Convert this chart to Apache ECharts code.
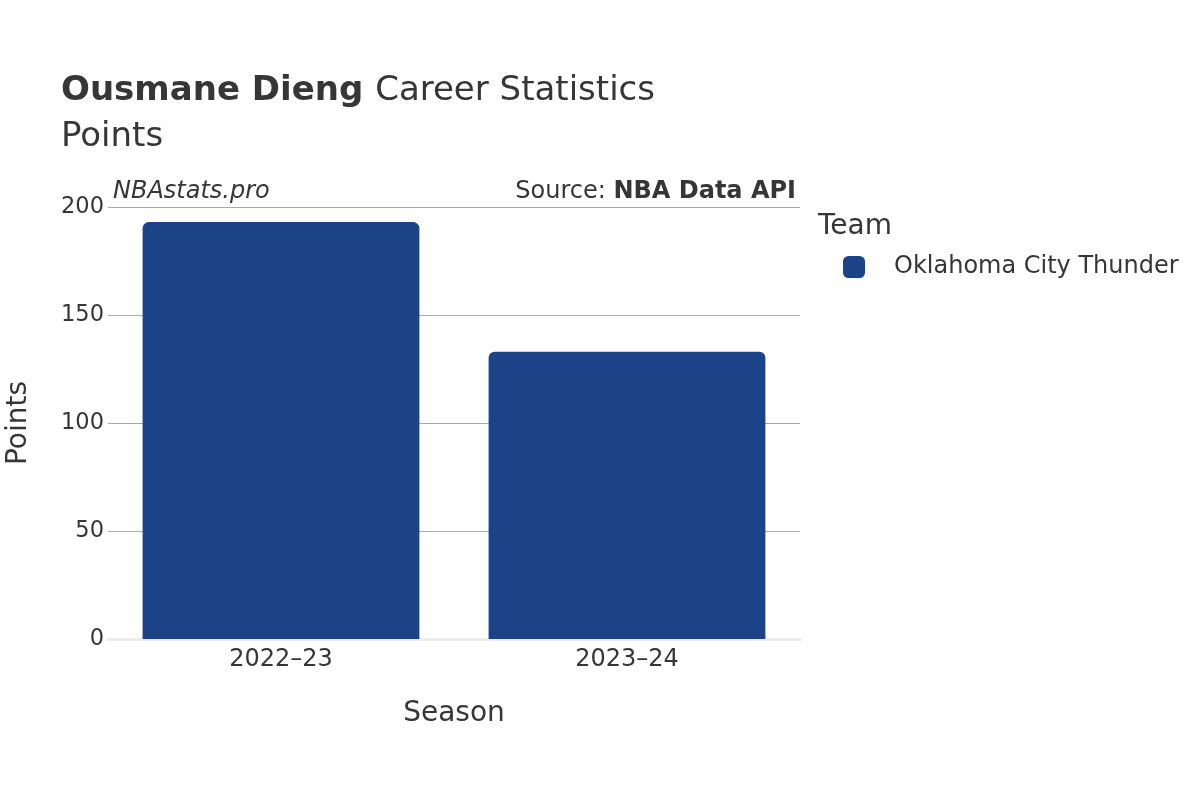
<!DOCTYPE html>
<html>
<head>
<meta charset="utf-8">
<script src="https://cdn.jsdelivr.net/npm/echarts@6/dist/echarts.min.js"></script>
<style>
  html, body { margin: 0; padding: 0; background: #fff; }
  #chart { width: 1200px; height: 800px; }
</style>
</head>
<body>
<div id="chart"></div>
<script>
var seasons = ["2022–23", "2023–24"];
var points = [193, 133];
var teamName = "Oklahoma City Thunder";
var yTicks = [0, 50, 100, 150, 200];

var font = "DejaVu Sans";
var textColor = "#363636";
var barColor = "#1c4388";

var chart = echarts.init(document.getElementById("chart"));
chart.setOption({
  animation: false,
  backgroundColor: "#fff",
  title: [
    {
      // main title with bold player name
      left: 56,
      top: 63,
      text: "{b|Ousmane Dieng }{n|Career Statistics}\n{n|Points}",
      textStyle: {
        fontWeight: "normal",
        rich: {
          b: { fontFamily: font, fontSize: 34, fontWeight: "bold", color: textColor, lineHeight: 46 },
          n: { fontFamily: font, fontSize: 34, fontWeight: "normal", color: textColor, lineHeight: 46 }
        }
      }
    },
    {
      left: 108,
      top: 175,
      text: "NBAstats.pro",
      textStyle: { fontFamily: font, fontSize: 24, fontStyle: "italic", fontWeight: "normal", color: textColor }
    },
    {
      right: 399,
      top: 175,
      text: "Source: {b|NBA Data API}",
      textStyle: {
        fontFamily: font, fontSize: 24, fontWeight: "normal", color: textColor,
        rich: { b: { fontFamily: font, fontSize: 24, fontWeight: "bold", color: textColor } }
      }
    },
    {
      left: 813,
      top: 208,
      text: "Team",
      textStyle: { fontFamily: font, fontSize: 28, fontWeight: "normal", color: textColor }
    }
  ],
  legend: {
    left: 838,
    top: 250,
    orient: "vertical",
    icon: "roundRect",
    itemWidth: 22,
    itemHeight: 22,
    textStyle: { fontFamily: font, fontSize: 24, color: textColor, padding: [0, 0, 0, 24] },
    data: [teamName]
  },
  grid: { left: 108, right: 400, top: 207, bottom: 161, outerBoundsMode: "none" },
  xAxis: {
    type: "category",
    data: seasons,
    name: "Season",
    nameLocation: "middle",
    nameGap: 61,
    nameTextStyle: { fontFamily: font, fontSize: 28, color: textColor },
    axisLine: { show: true, lineStyle: { color: "#ececec", width: 3 } },
    axisTick: { show: false },
    axisLabel: { fontFamily: font, fontSize: 24, color: textColor, margin: 9 }
  },
  yAxis: {
    type: "value",
    min: 0,
    max: 200,
    interval: 50,
    name: "Points",
    nameLocation: "middle",
    nameGap: 75,
    nameTextStyle: { fontFamily: font, fontSize: 28, color: textColor },
    axisLine: { show: false },
    axisTick: { show: false },
    axisLabel: {
      fontFamily: font, fontSize: 22.5, color: textColor, margin: 4, padding: [4, 0, 0, 0],
      formatter: function (v) { return yTicks.indexOf(v) >= 0 ? String(v) : ""; }
    },
    splitLine: { lineStyle: { color: "#a8a8a8", width: 1 } }
  },
  series: [
    {
      name: teamName,
      type: "bar",
      data: points,
      barWidth: "80%",
      itemStyle: { color: barColor, borderRadius: [6, 6, 0, 0] },
      z: 3
    }
  ]
});
</script>
</body>
</html>
